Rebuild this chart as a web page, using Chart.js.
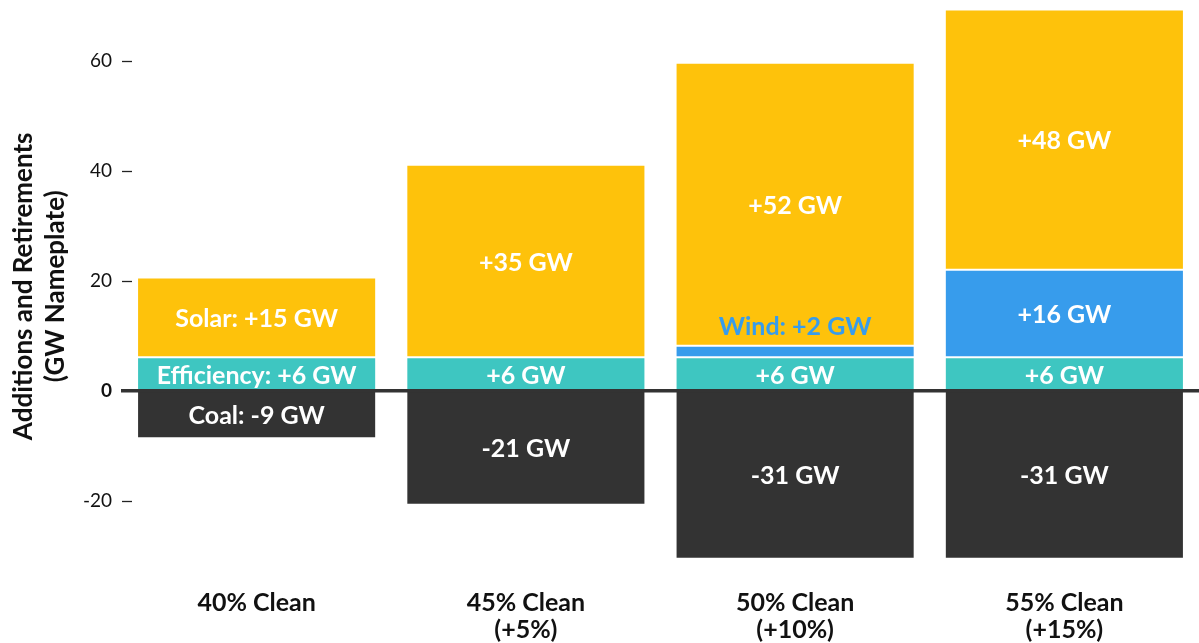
<!DOCTYPE html>
<html>
<head>
<meta charset="utf-8">
<script src="https://cdn.jsdelivr.net/npm/chart.js@4.4.0/dist/chart.umd.min.js"></script>
<style>
  html, body { margin: 0; padding: 0; background: #fff; }
  #wrap { width: 1199px; height: 643px; position: relative; }
</style>
</head>
<body>
<div id="wrap"><canvas id="c" width="1199" height="643"></canvas></div>
<script>
const categories = [["40% Clean"], ["45% Clean", "(+5%)"], ["50% Clean", "(+10%)"], ["55% Clean", "(+15%)"]];
const coal = [-8.6, -20.7, -30.5, -30.5];
const efficiency = [6.1, 6.1, 6.1, 6.1];
const wind = [0, 0, 2.1, 15.9];
const solar = [14.5, 35.0, 51.4, 47.3];
const coalLabels = ["Coal: -9 GW", "-21 GW", "-31 GW", "-31 GW"];
const efficiencyLabels = ["Efficiency: +6 GW", "+6 GW", "+6 GW", "+6 GW"];
const windLabels = ["", "", "Wind: +2 GW", "+16 GW"];
const solarLabels = ["Solar: +15 GW", "+35 GW", "+52 GW", "+48 GW"];
const yTicks = [-20, 0, 20, 40, 60];

const COLORS = { coal: '#333333', efficiency: '#3ec6c1', wind: '#379cec', solar: '#fec20b' };
const FONT = 'Lato';

const labelPlugin = {
  id: 'segLabels',
  afterDatasetsDraw(chart) {
    const ctx = chart.ctx;
    ctx.save();
    ctx.font = 'bold 25px ' + FONT;
    ctx.textAlign = 'center';
    ctx.textBaseline = 'middle';
    chart.data.datasets.forEach((ds, di) => {
      const meta = chart.getDatasetMeta(di);
      meta.data.forEach((el, i) => {
        const txt = ds.segLabels[i];
        if (!txt) return;
        const top = Math.min(el.y, el.base), bot = Math.max(el.y, el.base);
        if (bot - top < 20) {
          ctx.fillStyle = ds.backgroundColor;
          ctx.fillText(txt, el.x, top - 19);
        } else {
          ctx.fillStyle = '#ffffff';
          ctx.fillText(txt, el.x, (top + bot) / 2 + 1.5);
        }
      });
    });
    ctx.restore();
  },
  afterDraw(chart) {
    const ctx = chart.ctx;
    const y = chart.scales.y;
    const left = chart.chartArea.left;
    ctx.save();
    ctx.strokeStyle = '#222';
    ctx.lineWidth = 1.3;
    yTicks.forEach(v => {
      if (v === 0) return;
      const py = Math.round(y.getPixelForValue(v)) + 0.5;
      ctx.beginPath();
      ctx.moveTo(left, py);
      ctx.lineTo(left + 10, py);
      ctx.stroke();
    });
    const p0 = y.getPixelForValue(0);
    ctx.strokeStyle = '#333333';
    ctx.lineWidth = 3.5;
    ctx.beginPath();
    ctx.moveTo(left - 1, p0);
    ctx.lineTo(chart.chartArea.right, p0);
    ctx.stroke();
    ctx.restore();
  }
};

function ds(label, data, color, labels) {
  return {
    label, data, backgroundColor: color, segLabels: labels,
    borderColor: '#ffffff', borderWidth: 1, borderSkipped: false,
    categoryPercentage: 1.0, barPercentage: 0.888
  };
}

new Chart(document.getElementById('c'), {
  type: 'bar',
  data: {
    labels: categories,
    datasets: [
      ds('Coal', coal, COLORS.coal, coalLabels),
      ds('Efficiency', efficiency, COLORS.efficiency, efficiencyLabels),
      ds('Wind', wind, COLORS.wind, windLabels),
      ds('Solar', solar, COLORS.solar, solarLabels)
    ]
  },
  options: {
    responsive: false,
    animation: false,
    layout: { padding: { left: 0, right: 0, top: 5.6, bottom: 0 } },
    plugins: { legend: { display: false }, tooltip: { enabled: false } },
    scales: {
      x: {
        stacked: true,
        afterFit(scale) { scale.height = 76; scale.paddingLeft = 0; scale.paddingRight = 0; },
        grid: { display: false, drawTicks: false },
        border: { display: false },
        ticks: {
          color: '#111',
          padding: 22,
          maxRotation: 0,
          autoSkip: false,
          font: { family: FONT, size: 25, weight: 'bold', lineHeight: 1.1 }
        }
      },
      y: {
        stacked: true,
        min: -32, max: 70,
        afterFit(scale) { scale.width = 122; scale.paddingTop = 0; scale.paddingBottom = 0; },
        afterBuildTicks(scale) { scale.ticks = yTicks.map(v => ({ value: v })); },
        grid: { display: false, drawTicks: false },
        border: { display: false },
        ticks: {
          color: '#111',
          padding: 10,
          includeBounds: false,
          font: (c) => ({ family: FONT, size: 19, weight: (c.tick && c.tick.value === 0) ? 'bold' : 'normal' })
        },
        title: {
          display: true,
          text: ['Additions and Retirements', '(GW Nameplate)'],
          color: '#111',
          padding: { top: 8, bottom: 0 },
          font: { family: FONT, size: 26, weight: 'bold', lineHeight: 1.23 }
        }
      }
    }
  },
  plugins: [labelPlugin]
});
</script>
</body>
</html>
